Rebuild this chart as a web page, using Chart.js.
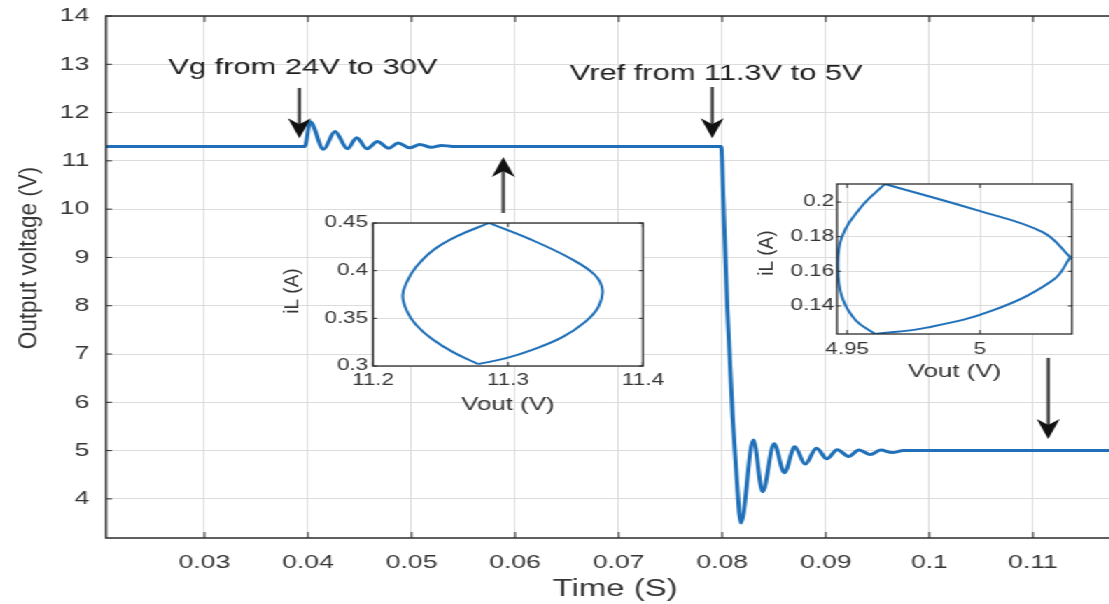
<!DOCTYPE html>
<html>
<head>
<meta charset="utf-8">
<script src="https://cdn.jsdelivr.net/npm/chart.js@4.4.1/dist/chart.umd.min.js"></script>
<style>
html, body { margin: 0; padding: 0; background: #fff; overflow: hidden; width: 1109px; height: 604px; }
/* the figure is drawn narrow and widened as a whole */
#stage { position: absolute; left: 0; top: 0; width: 810px; height: 604px; transform: scaleX(1.4); transform-origin: 0 0; }
#main { position: absolute; left: 0; top: 0; }
#inset1 { position: absolute; left: 195px; top: 205px; }
#inset2 { position: absolute; left: 540px; top: 165px; }
</style>
</head>
<body>
<div id="stage">
  <canvas id="main" width="810" height="604"></canvas>
  <canvas id="inset1" width="292" height="215"></canvas>
  <canvas id="inset2" width="236" height="225"></canvas>
</div>
<script>
// output voltage transient
const timeS = [0.0205, 0.0300, 0.0397, 0.0402, 0.0415, 0.0426, 0.0438, 0.0447, 0.0457, 0.0467,
  0.0478, 0.0487, 0.0498, 0.0508, 0.0519, 0.0529, 0.0540, 0.0700, 0.0799, 0.0801,
  0.0805, 0.0810, 0.0814, 0.0818, 0.0830, 0.0839, 0.0850, 0.0860, 0.0870, 0.0880,
  0.0891, 0.0901, 0.0911, 0.0922, 0.0932, 0.0943, 0.0953, 0.0964, 0.0975, 0.1000, 0.1188];
const outputV = [11.30, 11.30, 11.30, 11.81, 11.24, 11.61, 11.25, 11.48, 11.25, 11.40,
  11.26, 11.37, 11.27, 11.34, 11.28, 11.32, 11.30, 11.30, 11.30, 10.20,
  7.90, 5.70, 4.40, 3.50, 5.22, 4.15, 5.14, 4.54, 5.08, 4.72,
  5.05, 4.83, 5.02, 4.88, 5.01, 4.92, 5.01, 4.96, 5.00, 5.00, 5.00];
const xTicks = [0.03, 0.04, 0.05, 0.06, 0.07, 0.08, 0.09, 0.10, 0.11];
const xTickLabels = ['0.03', '0.04', '0.05', '0.06', '0.07', '0.08', '0.09', '0.1', '0.11'];
const yTicks = [4, 5, 6, 7, 8, 9, 10, 11, 12, 13, 14];

// limit cycle at Vref = 11.3 V
const cycleA_leftVout = [11.286, 11.262, 11.245, 11.232, 11.225, 11.222, 11.225, 11.232, 11.244, 11.260, 11.278];
const cycleA_leftIL = [0.450, 0.436, 0.422, 0.404, 0.388, 0.374, 0.358, 0.343, 0.328, 0.314, 0.302];
const cycleA_rightVout = [11.278, 11.298, 11.318, 11.340, 11.357, 11.367, 11.370, 11.364, 11.346, 11.318, 11.286];
const cycleA_rightIL = [0.302, 0.308, 0.317, 0.330, 0.346, 0.362, 0.380, 0.396, 0.413, 0.432, 0.450];
const cycleA_xTicks = [11.2, 11.3, 11.4];
const cycleA_xLabels = ['11.2', '11.3', '11.4'];
const cycleA_yTicks = [0.3, 0.35, 0.4, 0.45];
const cycleA_yLabels = ['0.3', '0.35', '0.4', '0.45'];

// limit cycle at Vref = 5 V
const cycleB_leftVout = [4.9642, 4.9552, 4.9480, 4.9465, 4.9481, 4.9533, 4.9605];
const cycleB_leftIL = [0.2104, 0.1970, 0.1797, 0.1623, 0.1450, 0.1316, 0.1238];
const cycleB_lowVout = [4.9605, 4.9800, 5.0048, 5.0274, 5.0340];
const cycleB_lowIL = [0.1238, 0.1275, 0.1374, 0.1548, 0.1681];
const cycleB_upVout = [5.0340, 5.0236, 4.9988, 4.9642];
const cycleB_upIL = [0.1681, 0.1826, 0.1953, 0.2104];
const cycleB_xTicks = [4.95, 5];
const cycleB_xLabels = ['4.95', '5'];
const cycleB_yTicks = [0.14, 0.16, 0.18, 0.2];
const cycleB_yLabels = ['0.14', '0.16', '0.18', '0.2'];

const FONT = "'Liberation Sans', Arial, sans-serif";
const TXT = '#363636';
const GRID = '#dcdcdc';
const BLUE = '#1f70b8';

function pts(xs, ys) { return xs.map((x, i) => ({ x: x, y: ys[i] })); }

function verticalText(ctx, text, x, y, size) {
  ctx.save();
  ctx.translate(x, y);
  ctx.scale(0.8, 1);
  ctx.rotate(-Math.PI / 2);
  ctx.font = size + 'px ' + FONT;
  ctx.fillStyle = TXT;
  ctx.textAlign = 'center';
  ctx.textBaseline = 'middle';
  ctx.fillText(text, 0, 0);
  ctx.restore();
}

// white plot box, inward tick marks, frame and rotated y label
const framePlugin = {
  id: 'frame',
  beforeDraw(chart, args, o) {
    if (!o.fill) return;
    const a = chart.chartArea, ctx = chart.ctx;
    ctx.save();
    ctx.fillStyle = '#fff';
    ctx.fillRect(a.left, a.top, a.right - a.left, a.bottom - a.top);
    ctx.restore();
  },
  afterDraw(chart, args, o) {
    const { ctx, chartArea: a, scales } = chart;
    const seg = (x0, y0, x1, y1) => { ctx.beginPath(); ctx.moveTo(x0, y0); ctx.lineTo(x1, y1); ctx.stroke(); };
    ctx.save();
    ctx.strokeStyle = '#2b2b2b';
    ctx.lineWidth = 1;
    scales.x.ticks.forEach(t => {
      const px = scales.x.getPixelForValue(t.value);
      seg(px, a.bottom, px, a.bottom - o.tick);
      seg(px, a.top, px, a.top + o.tick);
    });
    scales.y.ticks.forEach(t => {
      const py = scales.y.getPixelForValue(t.value);
      seg(a.left, py, a.left + o.tick / 1.4, py);
      seg(a.right, py, a.right - o.tick / 1.4, py);
    });
    ctx.lineWidth = o.border;
    ctx.strokeRect(a.left, a.top, a.right - a.left, a.bottom - a.top);
    ctx.restore();
    if (o.yTitle) verticalText(ctx, o.yTitle.text, o.yTitle.x, o.yTitle.y, o.yTitle.size);
  }
};

// event notes and arrows on the transient
const notes = [
  { text: 'Vg from 24V to 30V', t: 0.03951, v: 12.92 },
  { text: 'Vref from 11.3V to 5V', t: 0.07942, v: 12.80 }
];
const arrows = [
  { t: 0.03917, from: 12.51, to: 11.47 },
  { t: 0.07903, from: 12.53, to: 11.47 },
  { t: 0.05886, from: 9.92, to: 11.08 },
  { t: 0.11147, from: 6.92, to: 5.24 }
];

const notesPlugin = {
  id: 'notes',
  afterDraw(chart) {
    const { ctx, scales: { x, y } } = chart;
    ctx.save();
    ctx.font = '22px ' + FONT;
    ctx.fillStyle = '#1e1e1e';
    ctx.textAlign = 'center';
    ctx.textBaseline = 'middle';
    notes.forEach(n => ctx.fillText(n.text, x.getPixelForValue(n.t), y.getPixelForValue(n.v)));
    arrows.forEach(ar => {
      const px = x.getPixelForValue(ar.t);
      const y0 = y.getPixelForValue(ar.from), y1 = y.getPixelForValue(ar.to);
      const dir = Math.sign(y1 - y0), L = 20, W = 8.2;
      ctx.strokeStyle = '#444';
      ctx.lineWidth = 2.4;
      ctx.beginPath();
      ctx.moveTo(px, y0);
      ctx.lineTo(px, y1 - dir * L * 0.7);
      ctx.stroke();
      ctx.fillStyle = '#111';
      ctx.beginPath();
      ctx.moveTo(px, y1);
      ctx.lineTo(px - W, y1 - dir * L);
      ctx.lineTo(px, y1 - dir * (L - 6));
      ctx.lineTo(px + W, y1 - dir * L);
      ctx.closePath();
      ctx.fill();
    });
    ctx.restore();
  }
};

function fixedScale(size, horizontal) {
  return s => {
    if (horizontal) s.height = size; else s.width = size;
    s.paddingTop = 0; s.paddingBottom = 0; s.paddingLeft = 0; s.paddingRight = 0;
  };
}

// main transient
new Chart(document.getElementById('main'), {
  type: 'line',
  data: {
    datasets: [{
      data: pts(timeS, outputV),
      borderColor: BLUE,
      borderWidth: 3,
      pointRadius: 0,
      cubicInterpolationMode: 'monotone'
    }]
  },
  options: {
    responsive: false,
    animation: false,
    events: [],
    layout: { padding: { left: 0, right: 7, top: 16, bottom: 0 } },
    plugins: {
      legend: { display: false },
      tooltip: { enabled: false },
      frame: { tick: 6, border: 1.5, yTitle: { text: 'Output voltage (V)', x: 21.5, y: 258, size: 22.5 } }
    },
    scales: {
      x: {
        type: 'linear', min: 0.0205, max: 0.1188,
        afterBuildTicks: s => { s.ticks = xTicks.map(v => ({ value: v })); },
        afterFit: fixedScale(66, true),
        grid: { color: GRID, drawTicks: false },
        border: { display: false },
        ticks: { padding: 13, color: TXT, font: { family: FONT, size: 19 }, maxRotation: 0, autoSkip: false,
          callback: (v, i) => xTickLabels[i] },
        title: { display: true, text: 'Time (S)', color: TXT, font: { family: FONT, size: 23.5 }, padding: { top: 0, bottom: 0 } }
      },
      y: {
        type: 'linear', min: 3.19, max: 14,
        afterBuildTicks: s => { s.ticks = yTicks.map(v => ({ value: v })); },
        afterFit: fixedScale(75.7, false),
        grid: { color: GRID, drawTicks: false },
        border: { display: false },
        ticks: { padding: 12, color: TXT, font: { family: FONT, size: 19 }, autoSkip: false,
          callback: v => String(v) }
      }
    }
  },
  plugins: [framePlugin, notesPlugin]
});

function cycleChart(id, sets, cfg) {
  return new Chart(document.getElementById(id), {
    type: 'scatter',
    data: {
      datasets: sets.map(d => ({
        data: d, showLine: true, tension: 0.4, borderColor: BLUE, borderWidth: 2, pointRadius: 0
      }))
    },
    options: {
      responsive: false,
      animation: false,
      events: [],
      layout: { padding: { left: 0, right: cfg.padRight, top: cfg.padTop, bottom: 0 } },
      plugins: {
        legend: { display: false },
        tooltip: { enabled: false },
        frame: { fill: true, tick: 4, border: 1.3, yTitle: cfg.yTitle }
      },
      scales: {
        x: {
          type: 'linear', min: cfg.xMin, max: cfg.xMax,
          afterBuildTicks: s => { s.ticks = cfg.xTicks.map(v => ({ value: v })); },
          afterFit: fixedScale(cfg.xHeight, true),
          grid: { color: GRID, drawTicks: false },
          border: { display: false },
          ticks: { padding: cfg.xPad, color: TXT, font: { family: FONT, size: 16 }, maxRotation: 0, autoSkip: false,
            callback: (v, i) => cfg.xLabels[i] },
          title: { display: true, text: 'Vout (V)', color: TXT, font: { family: FONT, size: 18.5 },
            padding: { top: 0, bottom: cfg.titlePad } }
        },
        y: {
          type: 'linear', min: cfg.yMin, max: cfg.yMax,
          afterBuildTicks: s => { s.ticks = cfg.yTicks.map(v => ({ value: v })); },
          afterFit: fixedScale(cfg.yWidth, false),
          grid: { color: GRID, drawTicks: false },
          border: { display: false },
          ticks: { padding: cfg.yPad, color: TXT, font: { family: FONT, size: 16 }, autoSkip: false,
            callback: (v, i) => cfg.yLabels[i] }
        }
      }
    },
    plugins: [framePlugin]
  });
}

cycleChart('inset1',
  [pts(cycleA_leftVout, cycleA_leftIL), pts(cycleA_rightVout, cycleA_rightIL)],
  { xMin: 11.2, xMax: 11.4, yMin: 0.3, yMax: 0.45,
    xTicks: cycleA_xTicks, xLabels: cycleA_xLabels, yTicks: cycleA_yTicks, yLabels: cycleA_yLabels,
    padRight: 27.7, padTop: 18, xHeight: 54, yWidth: 71.4, xPad: 5, yPad: 3.5, titlePad: 4,
    yTitle: { text: 'iL (A)', x: 13.6, y: 86, size: 19 } });

cycleChart('inset2',
  [pts(cycleB_leftVout, cycleB_leftIL), pts(cycleB_lowVout, cycleB_lowIL), pts(cycleB_upVout, cycleB_upIL)],
  { xMin: 4.9462, xMax: 5.0346, yMin: 0.1238, yMax: 0.2104,
    xTicks: cycleB_xTicks, xLabels: cycleB_xLabels, yTicks: cycleB_yTicks, yLabels: cycleB_yLabels,
    padRight: 10.3, padTop: 19, xHeight: 56, yWidth: 57.9, xPad: 6, yPad: 2, titlePad: 7,
    yTitle: { text: 'iL (A)', x: 7.9, y: 88, size: 19 } });
</script>
</body>
</html>
